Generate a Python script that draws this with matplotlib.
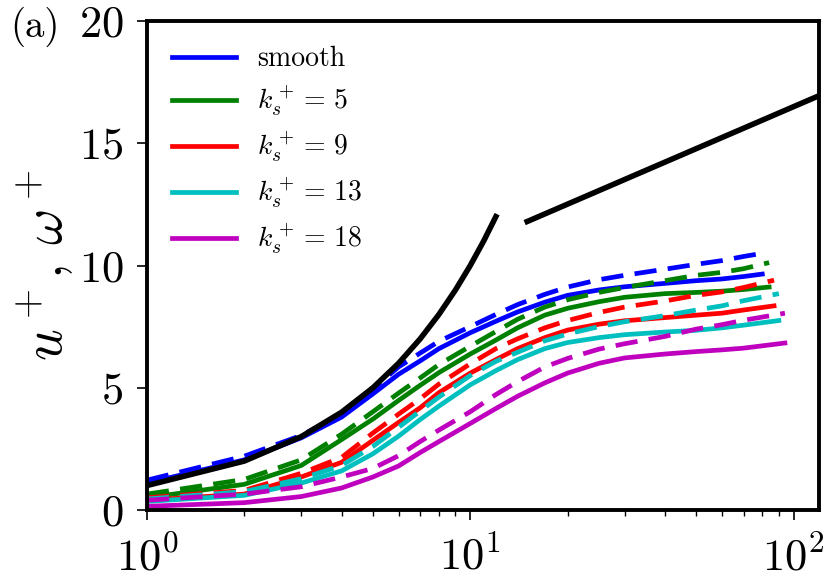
import matplotlib
matplotlib.use("Agg")
import matplotlib.pyplot as plt

plt.rcParams['font.family'] = 'serif'
plt.rcParams['font.serif'] = ['cmr10']
plt.rcParams['mathtext.fontset'] = 'cm'
plt.rcParams['axes.formatter.use_mathtext'] = True

# wall-normal positions y+ (last point differs per case)
yp = [1, 2, 3, 4, 5, 6, 7, 8, 10, 12, 14, 17, 20, 25, 30, 40, 50, 60, 70]
yp_end = [80, 84, 87, 90, 94]

labels = ['smooth', r'$k_s^+=\,5$', r'$k_s^+=\,9$', r'$k_s^+=\,13$', r'$k_s^+=\,18$']
colors = ['b', 'g', 'r', 'c', 'm']

# solid lines
u_smooth = [1.1, 2.05, 2.95, 3.8, 4.75, 5.55, 6.1, 6.6, 7.25, 7.72, 8.1, 8.5, 8.78,
            9.0, 9.13, 9.27, 9.38, 9.45, 9.55, 9.65]
u_k5 = [0.5, 1.05, 1.82, 2.88, 3.72, 4.48, 5.1, 5.62, 6.38, 6.95, 7.45, 7.97, 8.25,
        8.52, 8.7, 8.85, 8.9, 8.95, 9.02, 9.12]
u_k9 = [0.4, 0.65, 1.35, 1.95, 2.85, 3.58, 4.18, 4.8, 5.6, 6.15, 6.6, 7.05, 7.36,
        7.6, 7.74, 7.87, 7.97, 8.05, 8.18, 8.35]
u_k13 = [0.35, 0.6, 1.1, 1.6, 2.3, 3.02, 3.7, 4.25, 5.12, 5.7, 6.15, 6.6, 6.85,
         7.05, 7.17, 7.28, 7.35, 7.45, 7.56, 7.75]
u_k18 = [0.15, 0.3, 0.55, 0.9, 1.35, 1.8, 2.35, 2.8, 3.54, 4.15, 4.65, 5.2, 5.6,
         6.0, 6.22, 6.38, 6.48, 6.55, 6.62, 6.83]

# dashed lines
w_smooth = [1.22, 2.2, 3.05, 3.92, 4.95, 5.85, 6.42, 6.9, 7.5, 8.0, 8.4, 8.82, 9.12,
            9.42, 9.6, 9.85, 10.05, 10.2, 10.37, 10.5]
w_k5 = [0.65, 1.25, 2.05, 3.1, 4.02, 4.78, 5.4, 5.95, 6.7, 7.3, 7.8, 8.3, 8.6,
        8.9, 9.1, 9.38, 9.6, 9.72, 9.87, 10.12]
w_k9 = [0.5, 0.8, 1.5, 2.15, 3.15, 3.92, 4.55, 5.15, 5.98, 6.6, 7.0, 7.45, 7.75,
        8.08, 8.3, 8.55, 8.78, 8.92, 9.1, 9.4]
w_k13 = [0.45, 0.75, 1.28, 1.82, 2.6, 3.38, 4.05, 4.62, 5.5, 6.08, 6.45, 6.92, 7.2,
         7.5, 7.7, 7.95, 8.18, 8.35, 8.56, 8.85]
w_k18 = [0.4, 0.65, 0.95, 1.35, 1.7, 2.22, 2.8, 3.27, 4.02, 4.72, 5.25, 5.85, 6.2,
         6.58, 6.8, 7.1, 7.4, 7.58, 7.76, 8.05]

u_all = [u_smooth, u_k5, u_k9, u_k13, u_k18]
w_all = [w_smooth, w_k5, w_k9, w_k13, w_k18]

# viscous sublayer u+ = y+ and log law
yp_visc = [1, 2, 3, 4, 5, 6, 7, 8, 9, 10, 11, 12]
u_visc = [1, 2, 3, 4, 5, 6, 7, 8, 9, 10, 11, 12]
yp_log = [15, 120]
u_log = [11.8, 16.95]

fig = plt.figure(figsize=(8.3, 5.8), dpi=100)
ax = fig.add_axes([0.177, 0.1207, 0.81, 0.843])

for i in range(5):
    x = yp + [yp_end[i]]
    ax.plot(x, u_all[i], '-', color=colors[i], lw=3.4, label=labels[i])
    ax.plot(x, w_all[i], '--', color=colors[i], lw=3.4, dashes=(4.7, 2.4))

ax.plot(yp_visc, u_visc, 'k-', lw=4.0)
ax.plot(yp_log, u_log, 'k-', lw=4.0)

ax.set_xscale('log')
ax.set_xlim(1, 120)
ax.set_ylim(0, 20)
ax.set_yticks([0, 5, 10, 15, 20])
ax.tick_params(axis='both', which='major', labelsize=32, length=7, width=1.2, direction='out')
ax.tick_params(axis='y', which='major', pad=10)
ax.tick_params(axis='x', which='major', pad=12)
ax.tick_params(axis='x', which='minor', length=4, width=1.0, direction='out')
for s in ax.spines.values():
    s.set_linewidth(2.8)

ax.set_ylabel(r'$u^+$, $\omega^+$', fontsize=40, labelpad=2)

ax.legend(loc='upper left', frameon=False, fontsize=20, handlelength=2.3,
          labelspacing=0.42, borderaxespad=0.5, handletextpad=0.75)

fig.text(0.012, 0.936, '(a)', fontsize=28)

fig.savefig('out.png', dpi=100)
